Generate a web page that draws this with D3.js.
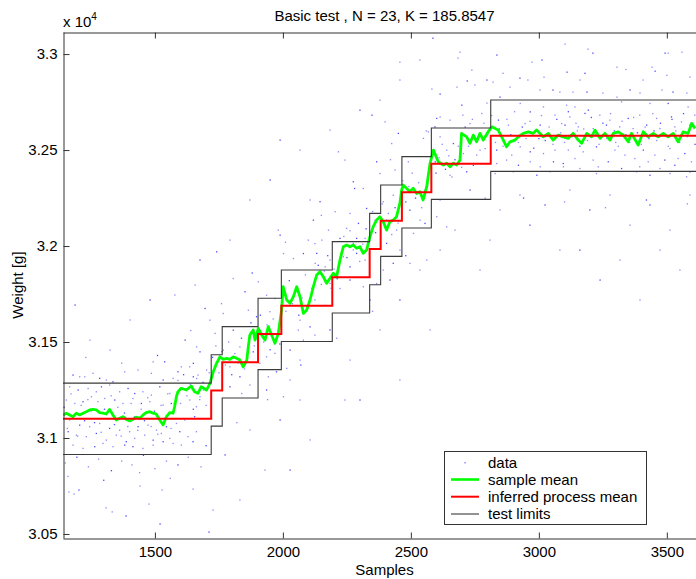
<!DOCTYPE html>
<html><head><meta charset="utf-8">
<script src="https://cdn.jsdelivr.net/npm/d3@7"></script>
<style>
body{margin:0;background:#fff}
svg{display:block}
text{font-family:"Liberation Sans",Arial,Helvetica,sans-serif;fill:#000}
</style>
</head><body>
<svg id="c" width="696" height="579"></svg>
<script>
// ---- data (weights in grams) ----
const meanSamples = [1141,1154,1167,1180,1193,1206,1219,1232,1245,1258,1271,1284,1297,1310,1323,1336,1349,1362,1375,1388,1402,1414,1427,1441,1454,1466,1480,1493,1505,1519,1532,1545,1558,1571,1577,1584,1590,1603,1623,1642,1655,1668,1681,1702,1715,1728,1741,1754,1767,1780,1793,1806,1819,1832,1845,1859,1865,1871,1884,1891,1904,1917,1930,1943,1956,1969,1982,1995,2001,2015,2028,2041,2054,2067,2080,2093,2106,2119,2132,2145,2158,2171,2184,2197,2210,2223,2236,2249,2262,2275,2288,2301,2314,2327,2340,2353,2366,2379,2392,2405,2418,2431,2444,2457,2464,2470,2483,2496,2509,2523,2535,2548,2562,2575,2588,2607,2627,2640,2653,2666,2679,2692,2698,2718,2731,2744,2757,2770,2783,2802,2816,2829,2841,2855,2874,2887,2907,2920,2939,2959,2978,2991,3017,3037,3056,3076,3095,3115,3134,3154,3167,3187,3206,3219,3239,3258,3278,3291,3310,3330,3349,3362,3388,3408,3427,3447,3466,3486,3505,3525,3544,3564,3583,3597,3610];
const meanWeights = [31120,31129,31120,31111,31129,31120,31129,31137,31146,31149,31146,31132,31129,31125,31149,31120,31094,31103,31111,31097,31089,31097,31108,31103,31120,31132,31137,31129,31125,31094,31068,31111,31132,31129,31163,31215,31241,31259,31250,31271,31241,31233,31267,31250,31285,31345,31389,31423,31410,31415,31410,31423,31415,31406,31371,31406,31476,31537,31563,31510,31571,31537,31510,31580,31537,31493,31545,31667,31788,31719,31702,31736,31788,31736,31649,31667,31719,31788,31849,31866,31840,31806,31832,31858,31840,31927,31996,32005,31996,32005,31988,31996,31962,31979,32048,32101,32135,32153,32127,32083,32127,32135,32153,32222,32292,32318,32301,32283,32301,32274,32283,32240,32309,32431,32500,32439,32422,32431,32413,32431,32422,32448,32587,32569,32535,32578,32543,32587,32552,32595,32621,32613,32604,32569,32517,32543,32552,32569,32587,32595,32587,32604,32569,32587,32552,32578,32569,32561,32587,32552,32535,32587,32569,32604,32561,32587,32552,32587,32595,32578,32543,32587,32526,32595,32569,32587,32569,32587,32569,32587,32543,32595,32587,32639,32613];

const stepSamples = [1141,1720,1763,1903,1994,2193,2339,2382,2465,2580,2812,3653];
const processMean = [31100,31248,31394,31542,31689,31837,31984,32132,32280,32429,32575,32575];
const upperLimit  = [31286,31434,31580,31728,31875,32023,32170,32318,32466,32615,32761,32761];
const lowerLimit  = [30914,31062,31208,31356,31503,31651,31798,31946,32094,32243,32389,32389];

const dataPoints = [
[1180,31328],[1206,31319],[1226,31319],[1284,31311],[1310,31302],[1258,31337],[1336,31293],[1382,31345],[1167,31267],[1200,31250],[1239,31258],[1271,31241],[1291,31267],[1323,31276],[1362,31241],[1395,31258],[1154,31198],[1187,31180],[1219,31189],[1252,31215],[1304,31206],[1343,31198],[1375,31180],[1167,31094],[1206,31067],[1245,31059],[1284,31076],[1323,31050],[1362,31041],[1401,31033],[1161,31033],[1193,31015],[1232,31007],[1271,31024],[1310,30989],[1349,31015],[1388,30981],[1180,30963],[1219,30946],[1265,30955],[1297,30972],[1336,30955],[1382,30963],
[1434,31354],[1486,31337],[1532,31302],[1571,31311],[1493,31397],[1538,31397],[1603,31371],[1636,31371],[1590,31345],[1668,31328],[1414,31206],[1447,31180],[1480,31189],[1532,31172],[1564,31180],[1636,31198],[1662,31163],[1421,31232],[1453,31241],[1486,31224],[1519,31267],[1558,31232],[1597,31258],[1434,31059],[1473,31067],[1506,31041],[1545,31059],[1584,31076],[1616,31094],[1655,31111],[1421,30998],[1460,31015],[1493,30989],[1525,31024],[1558,30998],[1597,31033],[1629,31007],[1662,31033],[1414,30955],[1453,30946],[1493,30963],[1532,30981],[1571,30972],[1603,30963],[1649,30981],
[1164,30719],[1184,30708],[1203,30729],[1309,30636],[1333,30615],[1387,30594],[1442,30750],[1477,30656],[1520,30552],[1528,30729],[1649,30734],[1711,30510],[1727,30625],
[1150,30870],[1195,30900],[1240,30850],[1280,30890],[1330,30830],[1370,30880],[1410,30860],[1455,30910],[1500,30840],[1545,30880],[1590,30860],[1630,30900],[1680,30850],
[1188,31693],[1246,31510],[1403,31615],[1481,31719],[1578,31745],[1325,31458],[1618,31510],[1657,31797],
[1982,32083],[1989,32057],[2099,32031],[2125,32013],[2080,31961],[2041,31935],[2002,31961],[1741,31970],[1806,31831],[1904,31814],[1852,31762],[1936,31744],[1969,31727],[1696,31675],[1767,31649],[1865,31666],[1897,31632],[1949,31658],[1715,31614],[1806,31562],[1735,31545],[1663,31475],[1676,31449],[1767,31458],[1832,31475],[1884,31449],[1936,31423],[1969,31441],[2028,31458],[2060,31562],[2067,31614],[2106,31579],[2125,31536],[2080,31510],[1650,31389],[1702,31354],[1793,31371],[1832,31319],[1910,31389],[1943,31319],[1975,31345],[2015,31363],[2067,31406],[1793,31267],[1839,31232],[1871,31276],[1936,31250],[2002,31215],[2028,31302],[1650,31319],[1689,31250],[1676,31215],
[1774,30912],[1871,31042],[1930,30833],[1989,31094],[2067,31198],[1832,30677],[2028,30833],[2106,30990],
[2399,32647],[2451,32587],[2425,32534],[2549,32561],[2594,32621],[2568,32595],[2217,32491],[2366,32439],[2438,32396],[2490,32439],[2275,32335],[2314,32300],[2379,32378],[2145,32231],[2204,32179],[2262,32170],[2327,32196],[2392,32231],[2431,32265],[2119,32135],[2178,32083],[2249,32092],[2295,32118],[2360,32135],[2152,32031],[2223,32040],[2275,32014],[2321,32040],[2132,31962],[2184,31927],[2236,31944],[2288,31962],[2126,31910],[2165,31892],[2262,31892],[2321,31927],[2405,32135],[2496,32187],[2536,32135],[2444,32083],[2405,32014],[2457,31979],[2510,32066],[2555,32118],[2601,32153],[2392,31875],[2431,31910],[2496,31910],[2562,31927],[2262,31823],[2314,31788],[2366,31805],[2418,31823],[2184,31805],[2223,31779],
[2184,31563],[2262,31406],[2379,31563],[2457,31719],[2535,31875],[2614,31979],[2301,31198],[2457,31302],[2575,31563],[2340,31719],[2242,31198],
[1871,32240],[1950,32344],[2067,32500],[2184,32604],[2301,32708],[2379,32760],[1793,32031],[1676,31927],[2457,32865],[2535,32969],[1989,32552],[2242,32448],[2106,32240],
[2699,32734],[2777,32691],[2927,32743],[2966,32699],[3018,32725],[3063,32682],[2601,32665],[2653,32656],[2731,32638],[2842,32656],[2881,32630],[2946,32638],[3005,32630],[3089,32638],[2614,32569],[2666,32534],[2757,32474],[2790,32508],[2835,32500],[2894,32474],[2927,32517],[2966,32491],[3018,32482],[3063,32500],[2595,32439],[2640,32500],[2705,32482],[2744,32421],[2835,32430],[2874,32448],[2920,32421],[2966,32439],[3005,32413],[3057,32439],[3096,32413],[2653,32369],[2718,32387],[2829,32378],[2900,32387],[2992,32369],[3044,32387],
[2614,32240],[2731,32292],[2848,32188],[2926,32266],[3024,32214],[2672,32083],[2809,32031],[2965,32109],[3082,31979],[2770,31875],
[2586,33083],[2692,33010],[2684,32979],[2836,32995],[2738,32917],[2582,32818],[2614,32792],[2680,32828],[2750,32839],[2797,32865],[2821,32854],[2887,32828],[2926,32875],[2957,32865],[3004,32813],[3055,32813],[3082,32802],[2973,32958],[3012,32969],[2703,32682],[2797,32745],[2848,32776],[2614,32672],[2457,32958],[2348,32682],
[3108,32734],[3141,32725],[3193,32708],[3323,32751],[3434,32743],[3505,32743],[3583,32725],[3121,32673],[3180,32691],[3238,32682],[3277,32656],[3349,32665],[3394,32682],[3460,32665],[3518,32673],[3557,32647],[3609,32682],[3102,32630],[3154,32621],[3212,32612],[3264,32630],[3316,32621],[3368,32612],[3421,32630],[3473,32612],[3531,32621],[3590,32630],[3115,32500],[3173,32491],[3225,32517],[3297,32500],[3336,32474],[3408,32500],[3453,32474],[3512,32508],[3570,32482],[3141,32456],[3212,32448],[3271,32439],[3375,32456],[3427,32439],[3492,32448],[3544,32456],[3596,32439],[3095,32430],[3160,32404],[3232,32413],[3323,32404],[3394,32413],[3473,32404],[3531,32421],[3225,32378],[3382,32387],[3434,32369],[3512,32378],[3577,32361],[3590,32387],
[3102,33052],[3192,33026],[3211,33005],[3305,32932],[3442,32932],[3493,33005],[3505,33005],[3559,33010],[3110,32906],[3160,32865],[3407,32865],[3454,32911],[3590,32880],[3133,32802],[3188,32802],[3250,32797],[3305,32776],[3356,32813],[3395,32797],[3481,32813],[3524,32802],[3578,32797],
[3121,32292],[3199,32188],[3278,32266],[3356,32109],[3434,32214],[3512,32083],[3590,32266],[3160,31979],[3317,31927],[3473,31979],[3239,31823],[3395,31719],[3551,31875],
[3000,32560],[3150,32600],[3300,32540],[3450,32600],[2900,32550],[3550,32560],
[1145,31160],[1158,31050],[1172,31230],[1185,31120],[1198,31010],[1212,31170],[1225,31090],[1238,31200],[1251,31140],[1264,31080],[1277,31190],[1290,31030],[1303,31150],[1316,31100],[1329,31220],[1342,31070],[1355,31160],[1368,31010],[1381,31130],[1394,31060],[1407,31180],[1420,31110],[1433,31040],[1446,31150],[1459,31090],[1472,31210],[1485,31060],[1498,31140],[1511,31020],[1524,31170],[1537,31100],[1550,31230],[1563,31050],[1576,31180],
[1590,31300],[1600,31180],[1612,31330],[1625,31220],[1638,31280],[1650,31150],[1663,31310],[1675,31200],[1688,31290],[1700,31170],[1712,31340],
[1725,31420],[1738,31480],[1750,31340],[1762,31450],[1775,31380],[1788,31500],[1800,31330],[1812,31440],[1825,31390],[1838,31520],[1850,31360],[1862,31460],
[1875,31600],[1888,31480],[1900,31560],[1912,31640],[1925,31500],[1938,31590],[1950,31460],[1962,31620],[1975,31540],[1988,31490],
[2000,31760],[2012,31660],[2025,31820],[2037,31700],[2050,31780],[2062,31640],[2075,31730],[2088,31850],[2100,31690],[2112,31780],[2125,31720],
[2138,31900],[2150,31800],[2162,31870],[2175,31950],[2188,31780],[2200,31880],[2212,31830],[2225,31920],
[2238,32050],[2250,31940],[2262,32080],[2275,31980],[2288,32040],[2300,31920],[2312,32010],[2325,32090],[2338,31960],
[2350,32180],[2362,32070],[2375,32150],[2388,32220],[2400,32100],[2412,32170],[2425,32060],[2438,32200],[2450,32120],
[2468,32340],[2480,32230],[2492,32310],[2505,32380],[2518,32250],[2530,32330],[2542,32200],[2555,32290],[2568,32360],
[2585,32490],[2598,32380],[2610,32460],[2622,32530],[2635,32400],[2648,32470],[2660,32360],[2672,32450],[2685,32520],[2698,32410],
[2712,32620],[2725,32520],[2740,32660],[2755,32560],[2770,32500],[2785,32640],[2800,32580],[2815,32680],[2830,32540],[2845,32610],[2860,32520],[2875,32660],[2890,32580],[2905,32700],[2920,32540],[2935,32620],[2950,32560],[2965,32650],[2980,32510],[2995,32600],[3010,32680],[3025,32550],[3040,32620],[3055,32530],[3070,32660],[3085,32590],[3100,32540],[3115,32700],[3130,32570],[3145,32640],[3160,32520],[3175,32610],[3190,32550],[3205,32670],[3220,32580],[3235,32530],[3250,32640],[3265,32560],[3280,32690],[3295,32600],[3310,32520],[3325,32650],[3340,32580],[3355,32540],[3370,32670],[3385,32590],[3400,32530],[3415,32620],[3430,32560],[3445,32690],[3460,32550],[3475,32640],[3490,32580],[3505,32520],[3520,32660],[3535,32600],[3550,32540],[3565,32690],[3580,32570],[3595,32640],[3610,32530],
[1160,30800],[1230,31420],[1300,30780],[1370,31390],[1440,30820],[1510,31430],[1560,30790],[1640,31560],[1700,30960],[1760,31700],[1820,31080],[1880,31860],[1940,31200],[2010,32020],[2070,31380],[2150,32160],[2210,31520],[2280,32300],[2350,31660],[2420,32450],[2480,31950],[2560,32600],[2640,32100],[2720,32860],[2790,32250],[2860,32900],[2940,32250],[3020,32880],[3100,32230],[3180,32900],[3260,32200],[3340,32920],[3420,32240],[3500,32890],[3580,32220]
];

const xTicks = [1500,2000,2500,3000,3500];
const yTicks = [30500,31000,31500,32000,32500,33000];
const yTickLabels = ["3.05","3.1","3.15","3.2","3.25","3.3"];
const legendLabels = ["data","sample mean","inferred process mean","test limits"];
const titleText = "Basic test , N = 23, K = 185.8547";

// ---- layout ----
const L = 63, T = 32, R = 706, B = 538;
const FS = 15;
const svg = d3.select("#c");
const x = d3.scaleLinear().domain([1141, 3653]).range([L, R]);
const y = d3.scaleLinear().domain([30479, 33115]).range([B, T]);

svg.append("defs").append("clipPath").attr("id","clip")
  .append("rect").attr("x",L).attr("y",T).attr("width",R-L).attr("height",B-T);

const plot = svg.append("g").attr("clip-path","url(#clip)");

// data dots
plot.append("g").selectAll("rect").data(dataPoints).join("rect")
  .attr("x", d => x(d[0]) - 0.6).attr("y", d => y(d[1]) - 0.6)
  .attr("width", 1.3).attr("height", 1.3)
  .attr("fill", "#2a2aff").attr("opacity", (d,i) => (i % 3 === 0 ? 0.85 : 0.55));

// sample mean
const meanLine = d3.line().x((d,i) => x(meanSamples[i])).y(d => y(d));
plot.append("path").attr("d", meanLine(meanWeights))
  .attr("fill","none").attr("stroke","#00ff00").attr("stroke-width",2.8)
  .attr("stroke-linejoin","round");

// process mean and limits
const stepLine = d3.line().curve(d3.curveStepAfter).x((d,i) => x(stepSamples[i])).y(d => y(d));
plot.append("path").attr("d", stepLine(processMean))
  .attr("fill","none").attr("stroke","#ff0000").attr("stroke-width",2);
[upperLimit, lowerLimit].forEach(arr => {
  plot.append("path").attr("d", stepLine(arr))
    .attr("fill","none").attr("stroke","#3a3a3a").attr("stroke-width",1.1);
});

// axes
const axColor = "#333";
const xb = svg.append("g").attr("transform",`translate(0,${B+0.5})`)
  .call(d3.axisBottom(x).tickValues(xTicks).tickSizeInner(-6).tickSizeOuter(0).tickPadding(7.5).tickFormat(d3.format("d")));
const xt = svg.append("g").attr("transform",`translate(0,${T+0.5})`)
  .call(d3.axisTop(x).tickValues(xTicks).tickSizeInner(-6).tickSizeOuter(0).tickFormat(""));
const yl = svg.append("g").attr("transform",`translate(${L+0.5},0)`)
  .call(d3.axisLeft(y).tickValues(yTicks).tickSizeInner(-6).tickSizeOuter(0).tickPadding(6)
    .tickFormat((d,i) => yTickLabels[i]));
[xb, xt, yl].forEach(g => {
  g.selectAll("path,line").attr("stroke", axColor);
  g.selectAll("text").attr("font-size", FS).attr("font-family","'Liberation Sans',Arial,sans-serif").attr("fill","#000");
});

// multiplier
const mult = svg.append("text").attr("x", 63).attr("y", 26.5).attr("font-size", FS);
mult.append("tspan").text("x 10");
mult.append("tspan").attr("font-size", 10).attr("dy", -7).text("4");

// title & axis labels
svg.append("text").attr("x", (L+R)/2).attr("y", 21).attr("text-anchor","middle")
  .attr("font-size", FS).text(titleText);
svg.append("text").attr("x", (L+R)/2).attr("y", 575).attr("text-anchor","middle")
  .attr("font-size", FS).text("Samples");
svg.append("text").attr("transform", `translate(23,${(T+B)/2}) rotate(-90)`)
  .attr("text-anchor","middle").attr("font-size", FS).text("Weight [g]");

// legend
const lg = svg.append("g");
lg.append("rect").attr("x", 444.5).attr("y", 451.5).attr("width", 202).attr("height", 73)
  .attr("fill","#fff").attr("stroke","#333").attr("stroke-width",1);
const rowY = [462.7, 479.5, 496.7, 514];
const legendStroke = [null, "#00ff00", "#ff0000", "#3a3a3a"];
const legendWidth = [0, 2.6, 2, 1.1];
legendLabels.forEach((lab, i) => {
  if (i === 0) {
    lg.append("rect").attr("x", 464.4).attr("y", rowY[i]-0.6).attr("width",1.3).attr("height",1.3)
      .attr("fill","#2a2aff").attr("opacity",0.7);
  } else {
    lg.append("line").attr("x1", 451).attr("x2", 479).attr("y1", rowY[i]).attr("y2", rowY[i])
      .attr("stroke", legendStroke[i]).attr("stroke-width", legendWidth[i]);
  }
  lg.append("text").attr("x", 488).attr("y", rowY[i] + 5.2).attr("font-size", FS).text(lab);
});
</script>
</body></html>
